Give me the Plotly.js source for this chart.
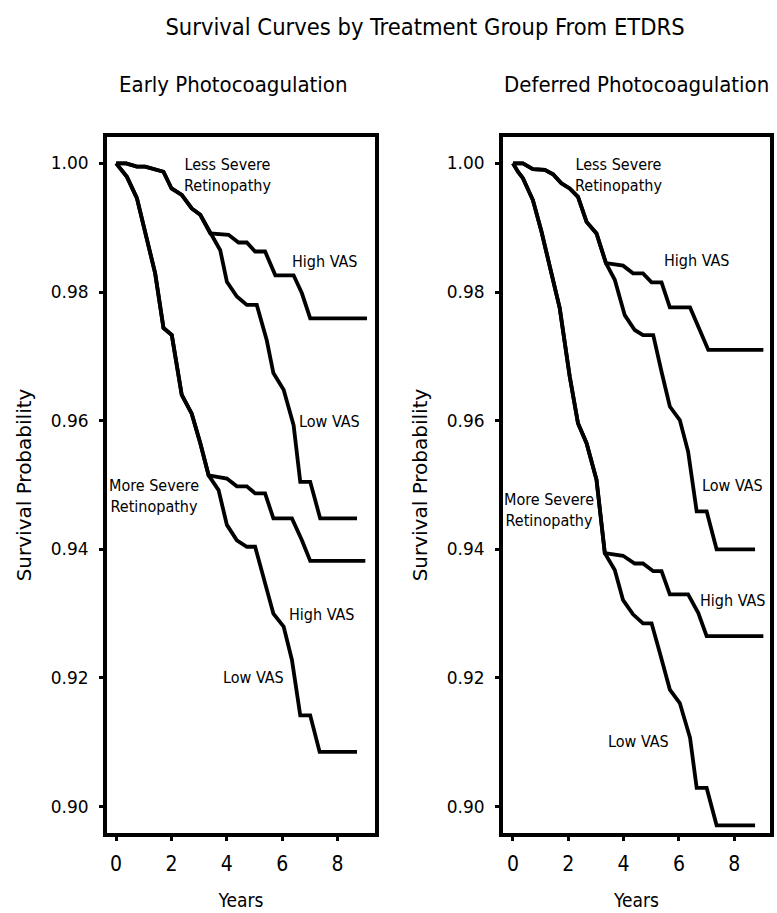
<!DOCTYPE html>
<html>
<head>
<meta charset="utf-8">
<script src="https://cdn.plot.ly/plotly-3.0.1.min.js"></script>
<style>
html,body{margin:0;padding:0;background:#fff;}
#chart{width:777px;height:913px;}
</style>
</head>
<body>
<div id="chart"></div>
<script>
// ---------- data ----------
// Early Photocoagulation panel
const earlyLessCommonX = [0, 0.36, 0.75, 1.05, 1.71, 2.0, 2.37, 2.73, 3.04, 3.40];
const earlyLessCommonY = [1.0, 1.0, 0.9995, 0.9995, 0.9987, 0.9961, 0.9951, 0.9930, 0.9920, 0.9891];
const earlyLessHighX = [3.40, 4.06, 4.42, 4.72, 5.02, 5.38, 5.75, 6.41, 6.71, 7.01, 9.06];
const earlyLessHighY = [0.9891, 0.9889, 0.9877, 0.9877, 0.9863, 0.9863, 0.9826, 0.9826, 0.9798, 0.9759, 0.9759];
const earlyLessLowX = [3.40, 3.76, 4.0, 4.36, 4.72, 5.08, 5.44, 5.68, 6.05, 6.41, 6.65, 7.01, 7.37, 8.70];
const earlyLessLowY = [0.9891, 0.9865, 0.9816, 0.9793, 0.9780, 0.9780, 0.9725, 0.9674, 0.9648, 0.9593, 0.9505, 0.9505, 0.9448, 0.9448];
const earlyMoreCommonX = [0, 0.39, 0.75, 1.05, 1.41, 1.71, 2.01, 2.37, 2.73, 3.04, 3.34];
const earlyMoreCommonY = [1.0, 0.9979, 0.9946, 0.9891, 0.9829, 0.9744, 0.9733, 0.9640, 0.9611, 0.9565, 0.9515];
const earlyMoreHighX = [3.34, 4.0, 4.36, 4.72, 5.02, 5.38, 5.68, 6.35, 6.71, 7.01, 9.0];
const earlyMoreHighY = [0.9515, 0.9510, 0.9498, 0.9498, 0.9487, 0.9487, 0.9448, 0.9448, 0.9414, 0.9382, 0.9382];
const earlyMoreLowX = [3.34, 3.70, 4.0, 4.36, 4.72, 5.02, 5.38, 5.68, 6.05, 6.35, 6.65, 7.01, 7.35, 8.70];
const earlyMoreLowY = [0.9515, 0.9492, 0.9438, 0.9414, 0.9404, 0.9404, 0.9350, 0.9300, 0.9280, 0.9228, 0.9142, 0.9142, 0.9085, 0.9085];

// Deferred Photocoagulation panel
const defLessCommonX = [0, 0.36, 0.72, 1.15, 1.45, 1.75, 2.05, 2.35, 2.66, 3.02, 3.36];
const defLessCommonY = [1.0, 1.0, 0.9991, 0.9990, 0.9983, 0.9969, 0.9961, 0.9948, 0.9909, 0.9891, 0.9845];
const defLessHighX = [3.36, 3.98, 4.34, 4.70, 5.01, 5.37, 5.67, 6.40, 6.70, 7.06, 9.05];
const defLessHighY = [0.9845, 0.9841, 0.9829, 0.9829, 0.9815, 0.9815, 0.9776, 0.9776, 0.9746, 0.9710, 0.9710];
const defLessLowX = [3.36, 3.68, 4.04, 4.40, 4.70, 5.07, 5.37, 5.67, 6.03, 6.33, 6.64, 7.0, 7.36, 8.75];
const defLessLowY = [0.9845, 0.9819, 0.9764, 0.9741, 0.9733, 0.9733, 0.9676, 0.9622, 0.9601, 0.9552, 0.9459, 0.9459, 0.9400, 0.9400];
const defMoreCommonX = [0, 0.18, 0.36, 0.72, 1.03, 1.39, 1.69, 2.05, 2.35, 2.66, 3.02, 3.32];
const defMoreCommonY = [1.0, 0.9987, 0.9977, 0.9943, 0.9894, 0.9827, 0.9775, 0.9669, 0.9596, 0.9565, 0.9508, 0.9394];
const defMoreHighX = [3.32, 3.98, 4.40, 4.70, 5.07, 5.37, 5.67, 6.33, 6.70, 7.0, 9.05];
const defMoreHighY = [0.9394, 0.9390, 0.9378, 0.9378, 0.9366, 0.9366, 0.9330, 0.9330, 0.9301, 0.9265, 0.9265];
const defMoreLowX = [3.32, 3.68, 3.98, 4.34, 4.70, 5.01, 5.31, 5.67, 6.03, 6.40, 6.64, 7.0, 7.36, 8.75];
const defMoreLowY = [0.9394, 0.9368, 0.9321, 0.9299, 0.9285, 0.9285, 0.9239, 0.9182, 0.9161, 0.9107, 0.9029, 0.9029, 0.8971, 0.8971];

// Tick labels
const xTickVals = [0, 2, 4, 6, 8];
const xTickText = ['0', '2', '4', '6', '8'];
const yTickVals = [0.90, 0.92, 0.94, 0.96, 0.98, 1.00];
const yTickText = ['0.90', '0.92', '0.94', '0.96', '0.98', '1.00'];

// Text
const mainTitle = 'Survival Curves by Treatment Group From ETDRS';
const panelTitles = ['Early Photocoagulation', 'Deferred Photocoagulation'];
const xTitle = 'Years';
const yTitle = 'Survival Probability';
const curveLabels = ['Less Severe<br>Retinopathy', 'High VAS', 'Low VAS', 'More Severe<br>Retinopathy', 'High VAS', 'Low VAS'];
const earlyLabelX = [4.03, 7.52, 7.70, 1.35, 7.40, 4.96];
const earlyLabelY = [0.99818, 0.98481, 0.95994, 0.94828, 0.92994, 0.92007];
const defLabelX = [3.83, 6.64, 7.93, 1.32, 7.92, 4.55];
const defLabelY = [0.99818, 0.98484, 0.94989, 0.94617, 0.93204, 0.91006];

// ---------- build ----------
const NARROW = '"Liberation Sans Narrow", "DejaVu Sans Condensed", "Arial Narrow", sans-serif';
const WIDE = '"DejaVu Sans", Verdana, sans-serif';

function curve(x1, y1, x2, y2, xa, ya) {
  return {
    x: x1.concat(x2.slice(1)), y: y1.concat(y2.slice(1)),
    type: 'scatter', mode: 'lines', xaxis: xa, yaxis: ya,
    line: {color: '#000', width: 3.8, shape: 'linear'},
    hoverinfo: 'skip', showlegend: false
  };
}

const traces = [
  curve(earlyLessCommonX, earlyLessCommonY, earlyLessHighX, earlyLessHighY, 'x', 'y'),
  curve(earlyLessCommonX, earlyLessCommonY, earlyLessLowX, earlyLessLowY, 'x', 'y'),
  curve(earlyMoreCommonX, earlyMoreCommonY, earlyMoreHighX, earlyMoreHighY, 'x', 'y'),
  curve(earlyMoreCommonX, earlyMoreCommonY, earlyMoreLowX, earlyMoreLowY, 'x', 'y'),
  curve(defLessCommonX, defLessCommonY, defLessHighX, defLessHighY, 'x2', 'y2'),
  curve(defLessCommonX, defLessCommonY, defLessLowX, defLessLowY, 'x2', 'y2'),
  curve(defMoreCommonX, defMoreCommonY, defMoreHighX, defMoreHighY, 'x2', 'y2'),
  curve(defMoreCommonX, defMoreCommonY, defMoreLowX, defMoreLowY, 'x2', 'y2')
];

const W = 777, H = 913;
const yDom = [1 - 833 / H, 1 - 137 / H];

function xAxis(dom, range) {
  return {
    domain: dom, range: range, tickvals: xTickVals, ticktext: xTickText,
    showline: true, mirror: true, linecolor: '#000', linewidth: 4,
    ticks: 'outside', ticklen: 4, tickwidth: 3, tickcolor: '#000',
    showgrid: false, zeroline: false, fixedrange: true,
    ticklabelstandoff: 5,
    tickfont: {family: NARROW, size: 21, color: '#000'},
    title: {text: xTitle, font: {family: NARROW, size: 19, color: '#000'}, standoff: 19}
  };
}
function yAxis(anchor, range) {
  return {
    domain: yDom, range: range, anchor: anchor, tickvals: yTickVals, ticktext: yTickText,
    showline: true, mirror: true, linecolor: '#000', linewidth: 4,
    ticks: 'outside', ticklen: 4, tickwidth: 3, tickcolor: '#000',
    showgrid: false, zeroline: false, fixedrange: true,
    ticklabelstandoff: 7,
    tickfont: {family: WIDE, size: 17, color: '#000'},
    title: {text: yTitle, font: {family: WIDE, size: 20, color: '#000'}, standoff: 15}
  };
}

const annotations = [];
function addLabels(xs, ys, xref, yref) {
  for (let i = 0; i < curveLabels.length; i++) {
    annotations.push({
      text: curveLabels[i], x: xs[i], y: ys[i], xref: xref, yref: yref,
      showarrow: false, font: {family: NARROW, size: 16, color: '#000'},
      xanchor: 'center', yanchor: 'middle', align: 'center'
    });
  }
}
addLabels(earlyLabelX, earlyLabelY, 'x', 'y');
addLabels(defLabelX, defLabelY, 'x2', 'y2');
annotations.push({text: panelTitles[0], x: 233 / W, y: 1 - 85 / H, xref: 'paper', yref: 'paper',
  showarrow: false, font: {family: NARROW, size: 22, color: '#000'}, xanchor: 'center', yanchor: 'middle'});
annotations.push({text: panelTitles[1], x: 636 / W, y: 1 - 85 / H, xref: 'paper', yref: 'paper',
  showarrow: false, font: {family: NARROW, size: 22, color: '#000'}, xanchor: 'center', yanchor: 'middle'});

const layout = {
  width: W, height: H,
  margin: {l: 0, r: 0, t: 0, b: 0},
  paper_bgcolor: '#fff', plot_bgcolor: '#fff',
  title: {text: mainTitle, x: 425 / W, xanchor: 'center', y: 1 - 27 / H, yanchor: 'middle',
    font: {family: NARROW, size: 23.5, color: '#000'}},
  xaxis: Object.assign(xAxis([107 / W, 375 / W], [-0.33, 9.35]), {anchor: 'y'}),
  yaxis: yAxis('x', [0.8959, 1.0041]),
  xaxis2: Object.assign(xAxis([503 / W, 770 / W], [-0.36, 9.29]), {anchor: 'y2'}),
  yaxis2: yAxis('x2', [0.8959, 1.0041]),
  annotations: annotations,
  showlegend: false
};

Plotly.newPlot('chart', traces, layout, {staticPlot: true, displayModeBar: false});
</script>
</body>
</html>
